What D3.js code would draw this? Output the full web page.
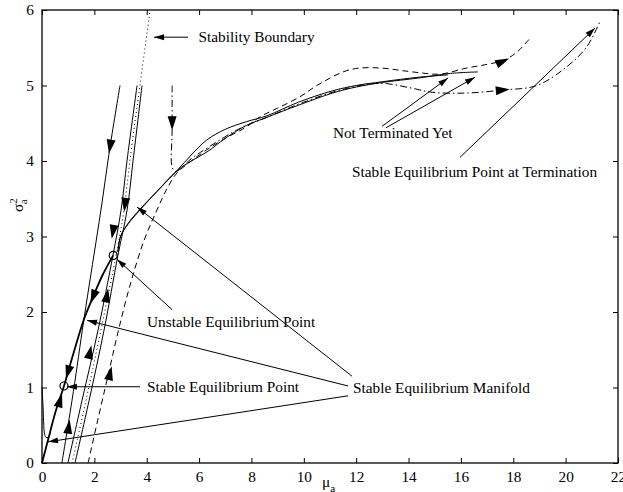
<!DOCTYPE html>
<html>
<head>
<meta charset="utf-8">
<script src="https://cdn.jsdelivr.net/npm/d3@7"></script>
<style>
  body { margin: 0; background: #fff; }
  svg { display: block; font-family: "Liberation Serif", "Times New Roman", serif; }
</style>
</head>
<body>
<div id="chart"></div>
<script>
// axis ticks
const xTicks = d3.range(0, 23, 2)
const yTicks = d3.range(0, 7, 1)

// trajectories (mu_a, sigma_a^2)
const manifoldLow = [[0,0],[0.12,0.16],[0.25,0.33],[0.5,0.66],[0.84,1.02],[1.2,1.45],[1.6,1.9],[1.95,2.2],[2.3,2.48],[2.72,2.75]]
const startCurve = [[0,1.0],[0.04,0.75],[0.1,0.38],[0.15,0.34],[0.24,0.34],[0.32,0.39]]
const lineL1 = [[2.98,5.0],[2.6,4.19],[2.25,3.35],[1.6,1.9],[1.2,0.95],[0.76,0]]
const lineLA = [[3.63,5.0],[3.25,4.01],[3.02,3.35],[2.71,2.75],[2.14,1.76],[1.53,0.83],[0.99,0]]
const lineLB = [[3.82,5.0],[3.48,4.01],[3.25,3.35],[2.9,2.75],[2.37,1.76],[1.8,0.83],[1.26,0]]
const boundary = [[1.15,0],[1.68,0.83],[2.25,1.76],[2.83,2.75],[3.13,3.35],[3.36,4.01],[3.74,5.0],[4.13,6.0]]
const manifoldUp1 = [[2.9,2.8],[3.0,3.0],[3.3,3.18],[3.74,3.36],[4.4,3.6],[5.15,3.87],[5.7,4.08],[6.3,4.28],[7.0,4.42],[7.8,4.52],[8.6,4.6],[9.8,4.78],[11.1,4.93],[12.0,5.0],[13.0,5.05],[14.4,5.11],[15.5,5.14]]
const manifoldUp2 = [[2.9,2.8],[3.0,3.0],[3.3,3.17],[3.74,3.35],[4.4,3.6],[5.15,3.87],[5.7,4.0],[6.3,4.12],[7.0,4.3],[7.8,4.47],[8.6,4.58],[9.8,4.74],[11.1,4.9],[12.0,4.98],[13.0,5.04],[14.4,5.1],[15.6,5.16],[16.65,5.18]]
const dashedPath = [[1.76,0],[2.15,0.6],[2.55,1.2],[2.95,1.8],[3.4,2.4],[3.9,2.95],[4.39,3.35],[4.8,3.65],[5.15,3.84],[5.7,4.0],[6.3,4.15],[7.0,4.3],[7.8,4.45],[8.3,4.58],[9.0,4.7],[9.85,4.85],[10.5,5.0],[11.5,5.18],[12.1,5.23],[13.0,5.23],[13.7,5.2],[14.4,5.17],[15.2,5.15],[16.2,5.23],[17.0,5.28],[17.6,5.33],[18.1,5.43],[18.65,5.63]]
const dashDotPath = [[4.97,5.0],[4.97,4.4],[4.97,3.92],[5.1,3.86],[5.7,4.03],[6.3,4.17],[7.5,4.42],[8.6,4.58],[10.0,4.78],[11.5,4.95],[12.9,5.03],[14.05,4.97],[14.9,4.91],[16.2,4.9],[17.6,4.94],[18.9,5.0],[20.05,5.25],[20.8,5.51],[21.3,5.84]]

// equilibrium points
const eqPoints = [[0.84,1.02],[2.72,2.75]]

// direction arrows on the trajectories: [x, y, dx, dy]
const flowArrows = [
  [2.6,4.19,-0.38,-0.84],
  [3.17,3.42,-0.23,-0.66],
  [2.71,3.06,-0.31,-0.6],
  [1.95,2.2,-0.35,-0.3],
  [0.99,1.2,-0.36,-0.43],
  [0.69,0.83,0.34,0.4],
  [1.02,0.48,0.4,0.95],
  [1.83,1.47,0.6,0.93],
  [2.48,2.22,0.53,0.99],
  [2.6,1.19,0.4,0.6],
  [4.97,4.5,0,-0.5],
  [17.6,5.32,0.5,0.08],
  [17.6,4.94,0.6,0.02]
]

// annotation texts and pointer lines
const labels = [
  {text: "Stability Boundary", x: 5.98, y: 5.575},
  {text: "Not Terminated Yet", x: 11.11, y: 4.30},
  {text: "Stable Equilibrium Point at Termination", x: 11.84, y: 3.79},
  {text: "Unstable Equilibrium Point", x: 4.01, y: 1.80},
  {text: "Stable Equilibrium Point", x: 4.01, y: 0.94},
  {text: "Stable Equilibrium Manifold", x: 11.88, y: 0.93}
]
const pointers = [
  [5.58,5.64,4.28,5.64],
  [12.99,4.46,15.51,5.10],
  [13.14,4.44,16.54,5.11],
  [15.97,4.05,21.12,5.76],
  [4.97,2.03,2.86,2.70],
  [3.74,1.01,0.95,1.01],
  [11.84,1.15,3.63,3.39],
  [11.69,1.02,1.72,1.89],
  [11.69,0.89,0.23,0.28]
]

const width = 623, height = 492
const margin = {left: 42, right: 5, top: 10, bottom: 29}
const fontSize = "15.3px"

const svg = d3.select("#chart").append("svg")
  .attr("width", width)
  .attr("height", height)

const x = d3.scaleLinear().domain([0, 22]).range([margin.left, width - margin.right])
const y = d3.scaleLinear().domain([0, 6]).range([height - margin.bottom, margin.top])

const plot = svg.append("g")

// box and inward ticks on every side
const tickLen = 5
const axisBottom = d3.axisBottom(x).tickValues(xTicks).tickFormat(d3.format("d")).tickSizeInner(-tickLen).tickSizeOuter(0).tickPadding(8)
const axisTop = d3.axisTop(x).tickValues(xTicks).tickSizeInner(-tickLen).tickSizeOuter(0).tickFormat("")
const axisLeft = d3.axisLeft(y).tickValues(yTicks).tickFormat(d3.format("d")).tickSizeInner(-tickLen).tickSizeOuter(0).tickPadding(8)
const axisRight = d3.axisRight(y).tickValues(yTicks).tickSizeInner(-tickLen).tickSizeOuter(0).tickFormat("")

svg.append("g").attr("transform", `translate(0,${y(0)})`).call(axisBottom)
svg.append("g").attr("transform", `translate(0,${y(6)})`).call(axisTop)
svg.append("g").attr("transform", `translate(${x(0)},0)`).call(axisLeft)
svg.append("g").attr("transform", `translate(${x(22)},0)`).call(axisRight)

svg.selectAll(".domain").remove()
svg.selectAll(".tick line").attr("stroke", "#000").attr("stroke-width", 1)
svg.selectAll(".tick text")
  .attr("fill", "#000")
  .style("font-size", fontSize)
  .style("font-family", "Liberation Serif")

svg.append("rect")
  .attr("x", x(0))
  .attr("y", y(6))
  .attr("width", x(22) - x(0))
  .attr("height", y(0) - y(6))
  .attr("fill", "none")
  .attr("stroke", "#000")
  .attr("stroke-width", 1.3)

const line = d3.line()
  .x(d => x(d[0]))
  .y(d => y(d[1]))
  .curve(d3.curveCatmullRom.alpha(0.5))

const paths = [
  {data: boundary, dash: "1,3", w: 1},
  {data: lineL1, dash: null, w: 1},
  {data: lineLA, dash: null, w: 1},
  {data: lineLB, dash: null, w: 1},
  {data: manifoldLow, dash: null, w: 1.8},
  {data: startCurve, dash: null, w: 1},
  {data: manifoldUp1, dash: null, w: 1},
  {data: manifoldUp2, dash: null, w: 1},
  {data: dashedPath, dash: "6,4", w: 1},
  {data: dashDotPath, dash: "7,3,1.5,3", w: 1}
]

plot.selectAll("path.traj")
  .data(paths)
  .join("path")
  .attr("class", "traj")
  .attr("d", d => line(d.data))
  .attr("fill", "none")
  .attr("stroke", "#000")
  .attr("stroke-width", d => d.w)
  .attr("stroke-dasharray", d => d.dash)

// filled triangle, centre at (cx, cy), pointing along angle a
function arrowHead(cx, cy, a, len, half) {
  const c = Math.cos(a), s = Math.sin(a)
  const tip = [cx + c * len / 2, cy + s * len / 2]
  const bx = cx - c * len / 2, by = cy - s * len / 2
  const p1 = [bx - s * half, by + c * half]
  const p2 = [bx + s * half, by - c * half]
  return `M${tip[0]},${tip[1]}L${p1[0]},${p1[1]}L${p2[0]},${p2[1]}Z`
}

plot.selectAll("path.flow")
  .data(flowArrows)
  .join("path")
  .attr("class", "flow")
  .attr("d", d => {
    const px = x(d[0]), py = y(d[1])
    const a = Math.atan2(y(d[1] + d[3]) - py, x(d[0] + d[2]) - px)
    return arrowHead(px, py, a, 14, 4.5)
  })
  .attr("fill", "#000")

// equilibrium point markers
plot.selectAll("circle.eq")
  .data(eqPoints)
  .join("circle")
  .attr("class", "eq")
  .attr("cx", d => x(d[0]))
  .attr("cy", d => y(d[1]))
  .attr("r", 4)
  .attr("fill", "none")
  .attr("stroke", "#000")
  .attr("stroke-width", 1.2)

// annotations
const ann = svg.append("g")
ann.selectAll("line")
  .data(pointers)
  .join("line")
  .attr("x1", d => x(d[0]))
  .attr("y1", d => y(d[1]))
  .attr("x2", d => x(d[2]))
  .attr("y2", d => y(d[3]))
  .attr("stroke", "#000")
  .attr("stroke-width", 1)

ann.selectAll("path")
  .data(pointers)
  .join("path")
  .attr("d", d => {
    const x1 = x(d[0]), y1 = y(d[1]), x2 = x(d[2]), y2 = y(d[3])
    const a = Math.atan2(y2 - y1, x2 - x1)
    const len = 10
    return arrowHead(x2 - Math.cos(a) * len / 2, y2 - Math.sin(a) * len / 2, a, len, 3)
  })
  .attr("fill", "#000")

ann.selectAll("text")
  .data(labels)
  .join("text")
  .attr("x", d => x(d.x))
  .attr("y", d => y(d.y))
  .style("font-size", fontSize)
  .text(d => d.text)

// axis labels
const xl = svg.append("text")
  .attr("x", 322)
  .attr("y", 487)
  .style("font-size", fontSize)
xl.append("tspan").text("μ")
xl.append("tspan").attr("dy", 5).style("font-size", "11px").text("a")

const yl = svg.append("text")
  .attr("transform", "translate(23,212) rotate(-90)")
  .style("font-size", fontSize)
yl.append("tspan").text("σ")
yl.append("tspan").attr("dy", -6).style("font-size", "11px").text("2")
yl.append("tspan").attr("dx", -6).attr("dy", 10).style("font-size", "11px").text("a")
</script>
</body>
</html>
